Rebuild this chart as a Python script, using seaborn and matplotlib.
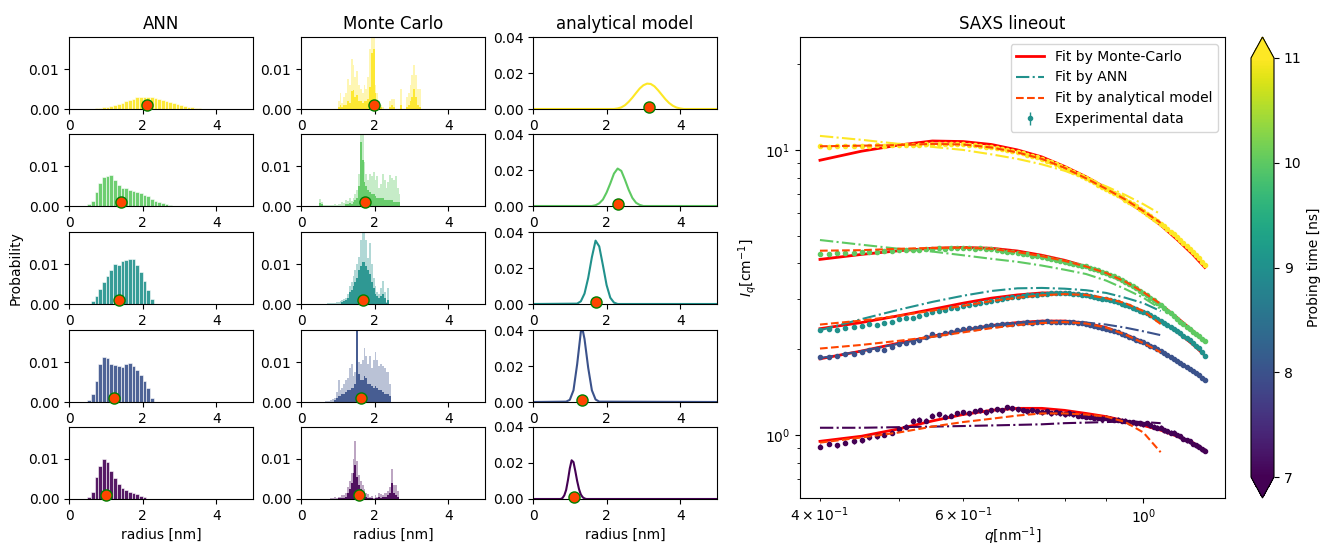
import numpy as np
import matplotlib as mpl
import matplotlib.pyplot as plt
import seaborn as sns

# probing times, top row to bottom row
times = [11, 10, 9, 8, 7]

# ANN size distributions: bin width 0.1 nm, first bin edge + heights
ann_width = 0.1
ann_start = [0.6, 0.5, 0.5, 0.4, 0.4]
ann_prob = [
    [0.0001, 0.0002, 0.0003, 0.0004, 0.0006, 0.0008, 0.0011, 0.0013, 0.0016, 0.0019, 0.0022, 0.0026,
     0.0029, 0.0031, 0.0031, 0.0030, 0.0029, 0.0027, 0.0025, 0.0023, 0.0020, 0.0017, 0.0014, 0.0012,
     0.0009, 0.0007, 0.0005, 0.0004, 0.0003, 0.0002, 0.0001, 0.0001],
    [0.0005, 0.0013, 0.0035, 0.0058, 0.0073, 0.0074, 0.0078, 0.0064, 0.0052, 0.0046, 0.0045, 0.0041,
     0.0038, 0.0036, 0.0033, 0.0028, 0.0025, 0.0018, 0.0013, 0.0010, 0.0007, 0.0004, 0.0002, 0.0001,
     0, 0, 0.0001],
    [0.0001, 0.0008, 0.0020, 0.0037, 0.0055, 0.0071, 0.0085, 0.0101, 0.0097, 0.0108, 0.0110, 0.0113,
     0.0112, 0.0097, 0.0080, 0.0058, 0.0034, 0.0012, 0, 0, 0, 0, 0, 0, 0, 0, 0, 0.0001, 0, 0.0001, 0.0001],
    [0.0001, 0.0004, 0.0021, 0.0052, 0.0095, 0.0113, 0.0110, 0.0094, 0.0093, 0.0091, 0.0088, 0.0094,
     0.0097, 0.0090, 0.0079, 0.0068, 0.0052, 0.0036, 0.0010, 0, 0, 0, 0, 0, 0, 0, 0, 0, 0.0001, 0,
     0.0001, 0.0001],
    [0.0001, 0.0005, 0.0018, 0.0055, 0.0083, 0.0100, 0.0093, 0.0070, 0.0052, 0.0038, 0.0028, 0.0022,
     0.0017, 0.0014, 0.0012, 0.0008, 0.0004, 0.0001],
]

# Monte Carlo distributions: bin width 0.05 nm, light (all runs) and dark (overlap) layers
mc_width = 0.05
mc_start = [1.0, 0.5, 0.6, 0.5, 0.8]
mc_light = [
    [0.0020, 0.0040, 0.0015, 0.0030, 0.0040, 0.0075, 0.0060, 0.0125, 0.0110, 0.0080, 0.0095, 0.0060,
     0.0050, 0.0040, 0.0060, 0.0050, 0.0080, 0.0150, 0.0180, 0.0180, 0.0060, 0.0040, 0.0020, 0.0010,
     0.0005, 0, 0, 0, 0.0020, 0.0025, 0.0025, 0, 0, 0, 0.0050, 0, 0, 0.0030, 0.0040, 0.0060, 0.0085,
     0.0110, 0.0085, 0.0050, 0.0050],
    [0.0017, 0.0010, 0.0003, 0.0002, 0.0002, 0.0003, 0.0002, 0.0003, 0.0004, 0.0003, 0.0005, 0.0006,
     0.0010, 0.0008, 0.0015, 0.0012, 0.0020, 0.0012, 0.0020, 0.0030, 0.0040, 0.0080, 0.0180, 0.0180,
     0.0110, 0.0080, 0.0065, 0.0080, 0.0075, 0.0085, 0.0065, 0.0075, 0.0045, 0.0055, 0.0080, 0.0065,
     0.0045, 0.0060, 0.0078, 0.0070, 0.0065, 0.0075, 0.0045, 0.0030],
    [0.0001, 0.0001, 0.0002, 0.0002, 0.0002, 0.0003, 0.0003, 0.0004, 0.0005, 0.0007, 0.0010, 0.0012,
     0.0015, 0.0025, 0.0045, 0.0055, 0.0070, 0.0085, 0.0100, 0.0117, 0.0160, 0.0180, 0.0180, 0.0160,
     0.0115, 0.0152, 0.0100, 0.0065, 0.0045, 0.0030, 0.0025, 0.0040, 0.0058, 0.0030, 0.0005, 0.0040],
    [0.0001, 0.0001, 0.0001, 0.0002, 0.0002, 0.0002, 0.0005, 0.0007, 0.0010, 0.0025, 0.0055, 0.0030,
     0.0035, 0.0045, 0.0055, 0.0060, 0.0085, 0.0095, 0.0065, 0.0075, 0.0180, 0.0100, 0.0095, 0.0105,
     0.0135, 0.0115, 0.0095, 0.0115, 0.0085, 0.0105, 0.0125, 0.0105, 0.0090, 0.0095, 0.0090, 0.0085,
     0.0075, 0.0075, 0.0045],
    [0.0003, 0.0002, 0.0004, 0.0003, 0.0005, 0.0006, 0.0010, 0.0010, 0.0015, 0.0030, 0.0045, 0.0065,
     0.0100, 0.0146, 0.0095, 0.0060, 0.0045, 0.0035, 0.0025, 0.0015, 0.0012, 0.0005, 0.0008, 0.0003,
     0.0010, 0.0006, 0.0015, 0.0012, 0.0010, 0.0015, 0.0015, 0.0020, 0.0030, 0.0075, 0.0035, 0.0035,
     0.0020],
]
mc_dark = [
    [0.0005, 0.0010, 0.0005, 0.0010, 0.0010, 0.0020, 0.0015, 0.0045, 0.0047, 0.0030, 0.0035, 0.0020,
     0.0020, 0.0015, 0.0020, 0.0020, 0.0025, 0.0055, 0.0140, 0.0150, 0.0040, 0.0020, 0.0010, 0.0005,
     0, 0, 0, 0, 0.0005, 0.0010, 0.0005, 0, 0, 0, 0.0010, 0, 0, 0.0005, 0.0010, 0.0020, 0.0030,
     0.0050, 0.0030, 0.0010, 0.0005],
    [0.0008, 0.0004, 0.0001, 0.0001, 0.0001, 0.0001, 0.0001, 0.0001, 0.0001, 0.0001, 0.0001, 0.0001,
     0.0001, 0.0001, 0.0005, 0.0004, 0.0008, 0.0005, 0.0010, 0.0015, 0.0020, 0.0050, 0.0160, 0.0115,
     0.0060, 0.0050, 0.0040, 0.0035, 0.0030, 0.0030, 0.0025, 0.0020, 0.0020, 0.0020, 0.0020, 0.0015,
     0.0015, 0.0015, 0.0015, 0.0015, 0.0010, 0.0010, 0.0010, 0.0010],
    [0.0001, 0.0001, 0.0001, 0.0001, 0.0001, 0.0001, 0.0001, 0.0001, 0.0001, 0.0001, 0.0005, 0.0007,
     0.0010, 0.0015, 0.0030, 0.0035, 0.0045, 0.0055, 0.0065, 0.0085, 0.0095, 0.0105, 0.0105, 0.0095,
     0.0085, 0.0075, 0.0055, 0.0040, 0.0025, 0.0020, 0.0015, 0.0020, 0.0025, 0.0015, 0.0002, 0.0010],
    [0.0001, 0.0001, 0.0001, 0.0001, 0.0001, 0.0001, 0.0001, 0.0001, 0.0005, 0.0010, 0.0015, 0.0015,
     0.0020, 0.0020, 0.0025, 0.0030, 0.0030, 0.0035, 0.0035, 0.0045, 0.0180, 0.0070, 0.0055, 0.0055,
     0.0065, 0.0060, 0.0045, 0.0045, 0.0040, 0.0035, 0.0040, 0.0035, 0.0030, 0.0030, 0.0025, 0.0020,
     0.0020, 0.0020, 0.0015],
    [0.0001, 0.0001, 0.0001, 0.0001, 0.0002, 0.0002, 0.0003, 0.0003, 0.0005, 0.0015, 0.0025, 0.0040,
     0.0065, 0.0085, 0.0055, 0.0035, 0.0025, 0.0015, 0.0010, 0.0005, 0.0003, 0.0002, 0.0002, 0.0001,
     0.0003, 0.0002, 0.0005, 0.0003, 0.0005, 0.0004, 0.0005, 0.0010, 0.0015, 0.0040, 0.0015, 0.0010,
     0.0005],
]

# analytical model distributions
ana_r = [
    [0, 2.2, 2.3, 2.4, 2.5, 2.6, 2.7, 2.8, 2.9, 3.0, 3.1, 3.2, 3.3, 3.4, 3.5, 3.6, 3.7, 3.8, 3.9, 4.0, 4.1, 5],
    [0, 1.6, 1.7, 1.8, 1.9, 2.0, 2.1, 2.2, 2.3, 2.4, 2.5, 2.6, 2.7, 2.8, 2.9, 3.0, 5],
    [0, 1.2, 1.3, 1.4, 1.5, 1.6, 1.7, 1.8, 1.9, 2.0, 2.1, 2.2, 2.3, 5],
    [0, 0.9, 1.0, 1.1, 1.2, 1.3, 1.35, 1.4, 1.5, 1.6, 1.7, 1.8, 5],
    [0, 0.75, 0.8, 0.85, 0.9, 0.95, 1.0, 1.05, 1.1, 1.15, 1.2, 1.25, 1.3, 1.35, 1.4, 1.45, 5],
]
ana_prob = [
    [0, 0, 0.0003, 0.0009, 0.0021, 0.0040, 0.0063, 0.0089, 0.0114, 0.0132, 0.0141, 0.0139, 0.0126,
     0.0104, 0.0079, 0.0054, 0.0033, 0.0018, 0.0008, 0.0003, 0, 0],
    [0, 0, 0.0004, 0.0015, 0.0036, 0.0075, 0.0125, 0.0180, 0.0208, 0.0195, 0.0145, 0.0090, 0.0045,
     0.0018, 0.0006, 0, 0],
    [0, 0.0002, 0.0015, 0.0058, 0.0145, 0.0260, 0.0352, 0.0320, 0.0215, 0.0105, 0.0035, 0.0008, 0, 0],
    [0, 0.0002, 0.0012, 0.0065, 0.0210, 0.0390, 0.0400, 0.0350, 0.0190, 0.0065, 0.0014, 0.0002, 0],
    [0, 0, 0.0005, 0.0020, 0.0050, 0.0105, 0.0170, 0.0215, 0.0205, 0.0155, 0.0100, 0.0055, 0.0025,
     0.0010, 0.0003, 0, 0],
]

# mean radius of each distribution (nm)
mean_ann = [2.13, 1.42, 1.35, 1.23, 1.01]
mean_mc = [1.99, 1.75, 1.69, 1.62, 1.57]
mean_ana = [3.14, 2.30, 1.71, 1.34, 1.11]

# SAXS lineouts
q_exp = [0.40, 0.41, 0.42, 0.43, 0.44, 0.45, 0.46, 0.47, 0.48, 0.49,
         0.50, 0.51, 0.52, 0.53, 0.54, 0.55, 0.56, 0.57, 0.58, 0.59,
         0.60, 0.61, 0.62, 0.63, 0.64, 0.65, 0.66, 0.67, 0.68, 0.69,
         0.70, 0.71, 0.72, 0.73, 0.74, 0.75, 0.76, 0.77, 0.78, 0.79,
         0.80, 0.81, 0.82, 0.83, 0.84, 0.85, 0.86, 0.87, 0.88, 0.89,
         0.90, 0.91, 0.92, 0.93, 0.94, 0.95, 0.96, 0.97, 0.98, 0.99,
         1.00, 1.01, 1.02, 1.03, 1.04, 1.05, 1.06, 1.07, 1.08, 1.09,
         1.10, 1.11, 1.12, 1.13, 1.14, 1.15, 1.16, 1.17, 1.18, 1.19]
I_exp = [
    [10.30, 10.28, 10.33, 10.31, 10.29, 10.35, 10.32, 10.38, 10.34, 10.37,
     10.40, 10.38, 10.44, 10.42, 10.47, 10.50, 10.46, 10.52, 10.49, 10.50,
     10.45, 10.44, 10.38, 10.35, 10.28, 10.20, 10.15, 10.05, 9.98, 9.90,
     9.80, 9.72, 9.62, 9.50, 9.42, 9.30, 9.18, 9.05, 8.92, 8.80,
     8.65, 8.52, 8.38, 8.24, 8.10, 7.95, 7.84, 7.70, 7.56, 7.44,
     7.30, 7.18, 7.06, 6.94, 6.82, 6.70, 6.58, 6.46, 6.34, 6.22,
     6.10, 5.98, 5.86, 5.74, 5.62, 5.50, 5.39, 5.28, 5.17, 5.06,
     4.95, 4.84, 4.73, 4.62, 4.51, 4.40, 4.29, 4.17, 4.06, 3.95],
    [4.33, 4.31, 4.34, 4.36, 4.35, 4.38, 4.37, 4.40, 4.42, 4.41,
     4.45, 4.44, 4.47, 4.46, 4.49, 4.50, 4.52, 4.50, 4.53, 4.52,
     4.52, 4.54, 4.51, 4.52, 4.50, 4.48, 4.46, 4.43, 4.40, 4.38,
     4.35, 4.33, 4.30, 4.26, 4.23, 4.20, 4.17, 4.14, 4.11, 4.08,
     4.05, 4.02, 3.99, 3.96, 3.93, 3.90, 3.86, 3.82, 3.78, 3.74,
     3.70, 3.65, 3.60, 3.55, 3.50, 3.45, 3.39, 3.33, 3.27, 3.21,
     3.15, 3.09, 3.03, 2.97, 2.91, 2.85, 2.79, 2.73, 2.67, 2.61,
     2.55, 2.50, 2.45, 2.40, 2.35, 2.30, 2.26, 2.22, 2.17, 2.13],
    [2.33, 2.35, 2.34, 2.38, 2.40, 2.42, 2.45, 2.44, 2.47, 2.50,
     2.55, 2.57, 2.58, 2.62, 2.66, 2.70, 2.72, 2.75, 2.78, 2.80,
     2.84, 2.86, 2.88, 2.91, 2.93, 2.96, 2.98, 3.00, 3.02, 3.04,
     3.06, 3.07, 3.09, 3.10, 3.11, 3.12, 3.13, 3.14, 3.14, 3.15,
     3.14, 3.14, 3.13, 3.12, 3.11, 3.09, 3.07, 3.05, 3.03, 3.01,
     2.99, 2.97, 2.94, 2.92, 2.89, 2.86, 2.83, 2.79, 2.76, 2.73,
     2.70, 2.67, 2.63, 2.60, 2.56, 2.52, 2.48, 2.44, 2.40, 2.36,
     2.32, 2.28, 2.23, 2.19, 2.15, 2.10, 2.06, 2.02, 1.96, 1.90],
    [1.87, 1.88, 1.90, 1.93, 1.92, 1.96, 1.98, 2.00, 1.99, 2.04,
     2.08, 2.10, 2.12, 2.15, 2.20, 2.26, 2.25, 2.28, 2.30, 2.33,
     2.35, 2.37, 2.38, 2.40, 2.42, 2.43, 2.44, 2.45, 2.46, 2.46,
     2.47, 2.48, 2.49, 2.48, 2.50, 2.50, 2.51, 2.50, 2.49, 2.50,
     2.50, 2.49, 2.49, 2.48, 2.47, 2.46, 2.44, 2.42, 2.40, 2.38,
     2.36, 2.34, 2.31, 2.29, 2.26, 2.24, 2.21, 2.19, 2.16, 2.14,
     2.12, 2.09, 2.06, 2.03, 2.00, 1.97, 1.94, 1.91, 1.88, 1.85,
     1.82, 1.79, 1.76, 1.73, 1.71, 1.68, 1.65, 1.62, 1.59, 1.56],
    [0.91, 0.93, 0.92, 0.94, 0.95, 0.96, 0.98, 0.99, 1.00, 1.02,
     1.05, 1.07, 1.12, 1.13, 1.12, 1.17, 1.18, 1.16, 1.17, 1.19,
     1.20, 1.19, 1.21, 1.22, 1.20, 1.22, 1.23, 1.22, 1.25, 1.24,
     1.23, 1.22, 1.21, 1.22, 1.21, 1.20, 1.21, 1.19, 1.20, 1.19,
     1.18, 1.19, 1.18, 1.17, 1.17, 1.16, 1.16, 1.15, 1.15, 1.14,
     1.15, 1.14, 1.13, 1.13, 1.12, 1.12, 1.11, 1.11, 1.10, 1.10,
     1.09, 1.10, 1.08, 1.07, 1.06, 1.06, 1.04, 1.03, 1.02, 1.02,
     1.00, 0.99, 0.97, 0.96, 0.95, 0.93, 0.92, 0.91, 0.89, 0.88],
]
err_rel = [0.008, 0.008, 0.010, 0.012, 0.020]

q_fit_mc = [0.40, 0.45, 0.50, 0.55, 0.60, 0.65, 0.70, 0.75, 0.80, 0.85, 0.90, 0.95, 1.00, 1.05, 1.10, 1.15, 1.19]
fit_mc = [
    [9.20, 9.90, 10.40, 10.75, 10.70, 10.45, 10.00, 9.45, 8.75, 8.05, 7.35, 6.65, 6.05, 5.45, 4.85, 4.30, 3.87],
    [4.13, 4.30, 4.43, 4.52, 4.55, 4.52, 4.42, 4.27, 4.10, 3.90, 3.68, 3.43, 3.15, 2.87, 2.58, 2.32, 2.12],
    [2.36, 2.48, 2.62, 2.76, 2.90, 3.02, 3.10, 3.15, 3.15, 3.10, 3.00, 2.86, 2.70, 2.52, 2.30, 2.08, 1.90],
    [1.85, 1.97, 2.10, 2.22, 2.33, 2.42, 2.48, 2.51, 2.51, 2.47, 2.38, 2.25, 2.12, 1.97, 1.82, 1.68, 1.56],
    [0.95, 0.99, 1.05, 1.12, 1.18, 1.22, 1.24, 1.24, 1.22, 1.19, 1.16, 1.12, 1.08, 1.04, 0.99, 0.94, 0.885],
]
q_fit = [0.40, 0.45, 0.50, 0.55, 0.60, 0.65, 0.70, 0.75, 0.80, 0.85, 0.90, 0.95, 1.00, 1.05]
fit_ann = [
    [11.20, 10.85, 10.50, 10.25, 10.00, 9.65, 9.30, 8.90, 8.45, 7.95, 7.45, 6.95, 6.45, 5.95],
    [4.83, 4.65, 4.50, 4.40, 4.27, 4.15, 4.05, 3.93, 3.80, 3.67, 3.48, 3.25, 3.03, 2.77],
    [2.33, 2.55, 2.75, 2.93, 3.08, 3.20, 3.27, 3.28, 3.26, 3.22, 3.15, 3.03, 2.90, 2.72],
    [1.86, 1.97, 2.09, 2.21, 2.32, 2.41, 2.47, 2.50, 2.50, 2.48, 2.44, 2.38, 2.31, 2.24],
    [1.06, 1.06, 1.065, 1.07, 1.075, 1.08, 1.085, 1.09, 1.10, 1.105, 1.11, 1.115, 1.11, 1.10],
]
fit_ana = [
    [10.30, 10.35, 10.40, 10.50, 10.45, 10.20, 9.80, 9.30, 8.65, 7.95, 7.30, 6.70, 6.10, 5.55],
    [4.43, 4.45, 4.50, 4.53, 4.54, 4.50, 4.38, 4.24, 4.08, 3.90, 3.70, 3.45, 3.17, 2.88],
    [2.44, 2.52, 2.62, 2.73, 2.84, 2.95, 3.03, 3.09, 3.12, 3.10, 3.02, 2.90, 2.72, 2.45],
    [2.01, 2.07, 2.14, 2.21, 2.29, 2.37, 2.43, 2.47, 2.49, 2.46, 2.38, 2.25, 2.10, 1.95],
    [0.94, 0.98, 1.02, 1.07, 1.11, 1.14, 1.17, 1.19, 1.19, 1.18, 1.16, 1.11, 1.02, 0.87],
]

cmap = mpl.colormaps['viridis']
norm = mpl.colors.Normalize(vmin=7, vmax=11)
colors = [cmap(norm(t)) for t in times]

W, H = 1323, 544
fig = plt.figure(figsize=(W / 100, H / 100), dpi=100)


def box(left, top, width, height):
    return [left / W, 1 - (top + height) / H, width / W, height / H]


def hist(ax, start, heights, width, **kw):
    centers = [start + width * (i + 0.5) for i in range(len(heights))]
    sns.histplot(x=centers, weights=heights, binwidth=width, binrange=(0, 5), ax=ax, **kw)


def mean_dot(ax, r):
    ax.plot([r], [0.001], 'o', ms=8, mfc='orangered', mec='green', mew=1, zorder=5, clip_on=False)


col_left = [69, 301, 533]
row_top = [37, 134, 232, 330, 427]
titles = ['ANN', 'Monte Carlo', 'analytical model']

for k in range(5):
    c = colors[k]
    axs = [fig.add_axes(box(col_left[j], row_top[k], 184, 72)) for j in range(3)]

    hist(axs[0], ann_start[k], ann_prob[k], ann_width, color=c, alpha=0.9,
         edgecolor='white', linewidth=0.4)
    mean_dot(axs[0], mean_ann[k])

    hist(axs[1], mc_start[k], mc_light[k], mc_width, color=c, alpha=0.35, linewidth=0)
    hist(axs[1], mc_start[k], mc_dark[k], mc_width, color=c, alpha=0.9, linewidth=0)
    mean_dot(axs[1], mean_mc[k])

    sns.lineplot(x=ana_r[k], y=ana_prob[k], color=c, lw=1.5, ax=axs[2])
    mean_dot(axs[2], mean_ana[k])

    for j, ax in enumerate(axs):
        ax.set_xlim(0, 5)
        ax.set_xticks([0, 2, 4])
        ax.set_ylabel('')
        ax.set_xlabel('')
        if j < 2:
            ax.set_ylim(0, 0.018)
            ax.set_yticks([0, 0.01])
        else:
            ax.set_ylim(0, 0.04)
            ax.set_yticks([0, 0.02, 0.04])
        if k == 0:
            ax.set_title(titles[j], fontsize=12)
        if k == 4:
            ax.set_xlabel('radius [nm]')
    if k == 2:
        axs[0].set_ylabel('Probability')

# SAXS lineout
ax = fig.add_axes(box(800, 37, 425, 461))
ax.set_xscale('log')
ax.set_yscale('log')
for k in range(5):
    c = colors[k]
    lab = k == 2
    ax.plot(q_fit_mc, fit_mc[k], '-', color='red', lw=2,
            label='Fit by Monte-Carlo' if lab else None, zorder=2)
    I = np.array(I_exp[k])
    ax.errorbar(q_exp, I, yerr=I * err_rel[k], fmt='o', ms=3, color=c, elinewidth=1,
                capsize=0, label='Experimental data' if lab else None, zorder=3)
    ax.plot(q_fit, fit_ann[k], '-.', color=c, lw=1.5,
            label='Fit by ANN' if lab else None, zorder=4)
    ax.plot(q_fit, fit_ana[k], '--', color='orangered', lw=1.5,
            label='Fit by analytical model' if lab else None, zorder=4)

ax.set_xlim(0.378, 1.26)
ax.set_ylim(0.601, 24.9)
ax.set_xlabel('$q$[nm$^{-1}$]', labelpad=-1)
ax.set_ylabel('$I_q$[cm$^{-1}$]')
ax.set_title('SAXS lineout', fontsize=12)
ax.legend(loc='upper right')

cax = fig.add_axes(box(1251, 37, 23, 461))
sm = mpl.cm.ScalarMappable(norm=norm, cmap=cmap)
cb = fig.colorbar(sm, cax=cax, extend='both', ticks=[7, 8, 9, 10, 11])
cb.set_label('Probing time [ns]')

fig.savefig('out.png', dpi=100)
